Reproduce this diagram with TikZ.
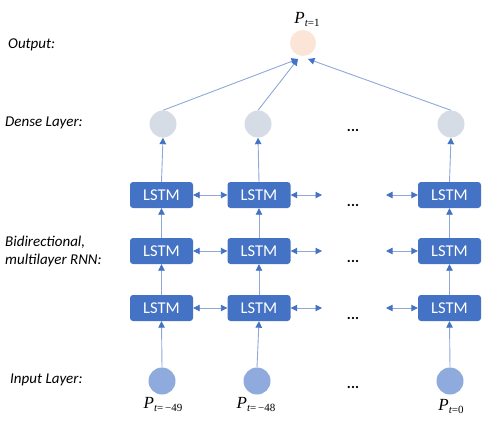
\documentclass[tikz,border=0pt]{standalone}
\usepackage{fontspec}
\setmainfont{Carlito}
\newfontfamily\pfont{Liberation Serif}
\usetikzlibrary{arrows.meta}
\definecolor{lstmblue}{HTML}{4472C4}
\definecolor{inblue}{HTML}{8FAADC}
\definecolor{densegray}{HTML}{D6DCE5}
\definecolor{outpeach}{HTML}{FBE5D6}
\definecolor{linec}{HTML}{8FA8D8}
\newcommand{\psub}[1]{{\pfont\itshape P\raisebox{-3pt}{\fontsize{11}{11}\selectfont #1}}}
\begin{document}
\begin{tikzpicture}[x=1pt,y=-1pt,
  lstm/.style={fill=lstmblue, rounded corners=3pt, minimum width=63pt, minimum height=26pt, text=white, font=\fontsize{16.5}{18}\selectfont, inner sep=0pt},
  incirc/.style={circle, fill=inblue, minimum size=27pt, inner sep=0pt},
  dcirc/.style={circle, fill=densegray, minimum size=27pt, inner sep=0pt},
  ocirc/.style={circle, fill=outpeach, minimum size=26pt, inner sep=0pt},
  tip/.tip={Triangle[length=6.5pt,width=6.5pt,color=lstmblue,fill=lstmblue]},
  conn/.style={draw=linec, line width=0.9pt, -tip},
  biconn/.style={draw=linec, line width=0.9pt, tip-tip},
  lab/.style={font=\itshape\fontsize{15}{18}\selectfont, anchor=west, inner sep=0pt},
  dotsn/.style={font=\bfseries\fontsize{15}{15}\selectfont, anchor=base, inner sep=0pt},
  plab/.style={font=\fontsize{17}{18}\selectfont, inner sep=0pt}
]
\useasboundingbox (0,0) rectangle (500,431);

% left labels
\node[lab] (tOut) at (8,45) {Output:};
\node[lab] (tDense) at (5,123) {Dense Layer:};
\node[lab, align=left] (tRnn) at (5,251) {Bidirectional,\\multilayer RNN:};
\node[lab] (tIn) at (10,380) {Input Layer:};

% output
\node[ocirc] (out) at (303,43) {};
\node[plab] (pout) at (307,19) {\psub{\itshape t\upshape =1}};

% dense
\node[dcirc] (d1) at (163,124) {};
\node[dcirc] (d2) at (258,124) {};
\node[dcirc] (d3) at (451,124) {};
\node[dotsn] (dd) at (353,131) {...};

% LSTM rows
\foreach \r/\y in {1/195,2/251,3/308}{
  \node[lstm] (l\r1) at (161.5,\y) {LSTM};
  \node[lstm] (l\r2) at (259,\y) {LSTM};
  \node[lstm] (l\r3) at (449.5,\y) {LSTM};
  \coordinate (a\r) at (322,\y);
  \coordinate (b\r) at (386,\y);
  \node[dotsn] (ld\r) at (353,\y+11) {...};
  \draw[biconn] (l\r1.east) -- (l\r2.west);
  \draw[biconn] (l\r2.east) -- (a\r);
  \draw[biconn] (b\r) -- (l\r3.west);
}

% input
\node[incirc] (i1) at (162,381) {};
\node[incirc] (i2) at (257,381) {};
\node[incirc] (i3) at (450,381) {};
\node[dotsn] (id) at (353,388) {...};
\node[plab] (p1) at (163,404) {\psub{\itshape t\upshape =\,−49}};
\node[plab] (p2) at (256,404) {\psub{\itshape t\upshape =\,−48}};
\node[plab] (p3) at (451,406) {\psub{\itshape t\upshape =0}};

% vertical connectors
\foreach \c in {1,2,3}{
  \draw[conn] (i\c.north) -- (l3\c.south);
  \draw[conn] (l3\c.north) -- (l2\c.south);
  \draw[conn] (l2\c.north) -- (l1\c.south);
  \draw[conn] (l1\c.north) -- (d\c.south);
}

% dense to output
\coordinate (o1) at (298,59);
\coordinate (o3) at (308,59);
\draw[conn] (d1.north) -- (o1);
\draw[conn] (d2.north) -- (o1);
\draw[conn] (d3.north) -- (o3);
\end{tikzpicture}
\end{document}
